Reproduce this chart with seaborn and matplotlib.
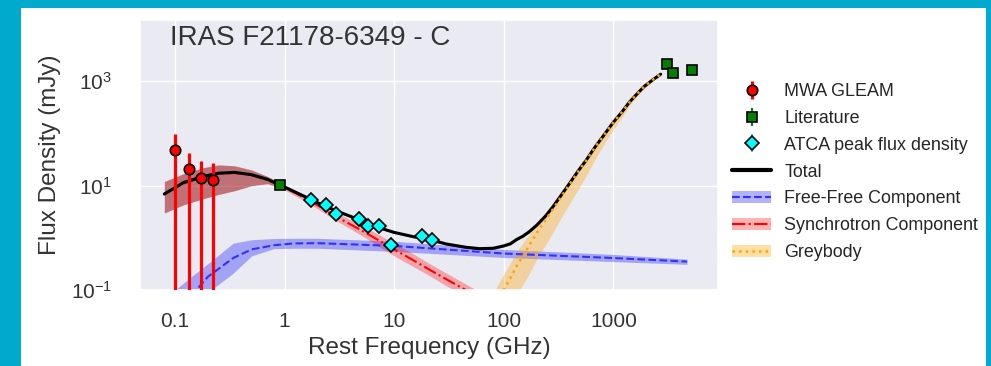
import matplotlib
matplotlib.use('Agg')
import matplotlib.pyplot as plt
import seaborn as sns
from matplotlib.patches import Patch, Rectangle
from matplotlib.lines import Line2D

# measured points
gleam_f = [0.10, 0.134, 0.172, 0.221]
gleam_v = [49, 21, 14.3, 13]
gleam_err = [50, 22, 16, 14.5]

lit_f = [0.90, 3116, 3465, 5196]
lit_v = [10.4, 2123, 1470, 1628]
lit_err = [0.6, 120, 90, 100]

atca_f = [1.74, 2.39, 2.95, 4.81, 5.72, 7.2, 9.33, 17.9, 22.0]
atca_v = [5.22, 4.31, 2.89, 2.29, 1.65, 1.65, 0.72, 1.09, 0.89]
atca_err = [0.2, 0.15, 0.1, 0.08, 0.06, 0.06, 0.04, 0.05, 0.04]

# model curves
tot_f = [0.08, 0.12, 0.18, 0.25, 0.35, 0.5, 0.7, 1.0, 1.5, 2.0, 3.0, 5.0, 7.0, 10, 15, 20, 30, 45, 60, 80,
         100, 115, 130, 150, 170, 200, 240, 280, 340, 400, 480, 560, 680, 800, 1000, 1200, 1400, 1650, 1900,
         2300, 2700]
tot_v = [6.9, 11.5, 15.0, 17.3, 18.0, 16.2, 13.2, 9.4, 6.3, 4.7, 3.25, 2.15, 1.6, 1.27, 1.05, 0.95, 0.76, 0.66,
         0.62, 0.63, 0.70, 0.77, 0.92, 1.08, 1.3, 1.75, 2.6, 3.9, 6.9, 11.2, 19.5, 30, 55, 87, 165, 260, 400,
         580, 790, 1080, 1370]
tot_hi = [12, 17, 22, 25, 24, 20, 15, 10.3, 6.6, 4.9, 3.4, 2.25, 1.67, 1.32, 1.1, 0.99, 0.8, 0.69, 0.65, 0.66,
          0.73, 0.81, 0.96, 1.13, 1.36, 1.83, 2.72, 4.1, 7.2, 11.7, 20.4, 31.4, 57.5, 91, 172, 272, 418, 606,
          825, 1130, 1430]
tot_lo = [3.0, 4.3, 5.6, 6.8, 8.0, 10, 11, 8.6, 6.0, 4.5, 3.1, 2.06, 1.53, 1.22, 1.0, 0.91, 0.73, 0.63, 0.59,
          0.6, 0.67, 0.73, 0.88, 1.03, 1.24, 1.67, 2.49, 3.73, 6.6, 10.7, 18.6, 28.7, 52.6, 83, 158, 248, 382,
          554, 755, 1032, 1310]

ff_f = [0.1, 0.15, 0.2, 0.34, 0.5, 0.8, 1.2, 2, 10, 100, 1000, 4700]
ff_v = [0.04, 0.09, 0.18, 0.41, 0.6, 0.72, 0.78, 0.79, 0.70, 0.50, 0.41, 0.35]
ff_hi = [0.1, 0.2, 0.32, 0.79, 0.92, 0.97, 0.98, 0.98, 0.86, 0.60, 0.48, 0.39]
ff_lo = [0.015, 0.04, 0.09, 0.21, 0.45, 0.62, 0.63, 0.63, 0.55, 0.42, 0.35, 0.31]

syn_f = [0.08, 0.12, 0.18, 0.25, 0.35, 0.5, 0.7, 1.0, 1.5, 2.0, 3.0, 5.0, 7.0, 10, 15, 20, 30, 45, 60, 80]
syn_v = [7.0, 11.0, 14.5, 16.8, 17.5, 16.0, 12.8, 9.3, 5.9, 4.2, 2.5, 1.4, 0.93, 0.6, 0.37, 0.26, 0.16, 0.1,
         0.07, 0.05]
syn_hi = [12, 17, 22, 25, 24, 20, 15, 10.3, 6.7, 4.9, 3.0, 1.75, 1.2, 0.79, 0.49, 0.34, 0.21, 0.13, 0.092, 0.066]
syn_lo = [3.0, 4.3, 5.6, 6.8, 8.0, 10, 10.8, 8.3, 5.2, 3.6, 2.1, 1.12, 0.72, 0.45, 0.28, 0.2, 0.12, 0.076,
          0.053, 0.038]

gb_f = [70, 85, 100, 115, 130, 150, 170, 200, 240, 280, 340, 400, 480, 560, 680, 800, 1000, 1200, 1400, 1650,
        1900, 2300, 2700]
gb_v = [0.028, 0.055, 0.1, 0.17, 0.28, 0.45, 0.7, 1.25, 2.2, 3.5, 6.5, 10.8, 19, 29.5, 54.5, 86, 164, 258, 398,
        578, 788, 1078, 1368]
gb_hi = [0.056, 0.11, 0.2, 0.33, 0.53, 0.81, 1.15, 1.9, 3.1, 4.6, 8.1, 12.9, 21.3, 32, 57.8, 89, 169, 265, 408,
         590, 802, 1095, 1385]
gb_lo = [0.008, 0.0157, 0.029, 0.049, 0.08, 0.13, 0.2, 0.39, 0.73, 1.25, 2.6, 4.6, 8.6, 15, 32, 57, 121, 205,
         346, 518, 730, 1015, 1303]

xticks = [0.1, 1, 10, 100, 1000]
xticklabels = ['0.1', '1', '10', '100', '1000']
yticks = [0.1, 10, 1000]

sns.set_theme(style='darkgrid')
plt.rcParams['font.family'] = ['Liberation Sans', 'DejaVu Sans']

fig = plt.figure(figsize=(9.91, 3.66), dpi=100)
fig.patch.set_facecolor('#00AACC')
fig.add_artist(Rectangle((20.7 / 991, 0), (986 - 20.7) / 991, (366 - 7.7) / 366,
                         transform=fig.transFigure, facecolor='white', edgecolor='none', zorder=-10))

ax = fig.add_axes([0.1413, 0.2077, 0.5832, 0.7377])
ax.set_xscale('log')
ax.set_yscale('log')

# uncertainty bands
ax.fill_between(tot_f, tot_lo, tot_hi, color='black', alpha=0.3, lw=0)
ax.fill_between(ff_f, ff_lo, ff_hi, color='blue', alpha=0.3, lw=0)
ax.fill_between(syn_f, syn_lo, syn_hi, color='red', alpha=0.3, lw=0)
ax.fill_between(gb_f, gb_lo, gb_hi, color='orange', alpha=0.35, lw=0)

sns.lineplot(x=ff_f, y=ff_v, ax=ax, color='#3030ff', linestyle='--', lw=1.5, errorbar=None)
sns.lineplot(x=syn_f, y=syn_v, ax=ax, color='red', linestyle='-.', lw=1.5, errorbar=None)
sns.lineplot(x=tot_f, y=tot_v, ax=ax, color='black', lw=2.2, errorbar=None)
sns.lineplot(x=gb_f, y=gb_v, ax=ax, color='orange', linestyle=':', lw=1.8, errorbar=None)

h_gleam = ax.errorbar(gleam_f, gleam_v, yerr=gleam_err, fmt='o', color='red', mec='black', mew=1.2,
                      ms=7.5, elinewidth=2.3, capsize=0, zorder=5)
h_lit = ax.errorbar(lit_f, lit_v, yerr=lit_err, fmt='s', color='green', mfc='green', mec='black', mew=1.2,
                    ms=7, elinewidth=1.5, capsize=0, zorder=5)
h_atca = ax.errorbar(atca_f, atca_v, yerr=atca_err, fmt='D', color='cyan', mfc='cyan', mec='black', mew=1.2,
                     ms=7.2, elinewidth=1.5, capsize=0, zorder=5)

ax.set_xlim(0.048, 9000)
ax.set_ylim(0.1, 1.5e4)
ax.set_xticks(xticks)
ax.set_xticklabels(xticklabels)
ax.set_yticks(yticks)
ax.minorticks_off()
ax.tick_params(axis='x', labelsize=15, pad=10, colors='#333333')
ax.tick_params(axis='y', labelsize=15, pad=14, colors='#333333')
ax.set_xlabel('Rest Frequency (GHz)', fontsize=17.5, color='#333333', labelpad=4)
ax.set_ylabel('Flux Density (mJy)', fontsize=17.5, color='#333333', labelpad=7)
ax.text(0.052, 0.933, 'IRAS F21178-6349 - C', transform=ax.transAxes, fontsize=20,
        va='center', ha='left', color='#333333')

handles = [
    h_gleam, h_lit, h_atca,
    Line2D([], [], color='black', lw=3),
    (Patch(facecolor='blue', alpha=0.3, lw=0), Line2D([], [], color='#3030ff', ls='--', lw=1.5)),
    (Patch(facecolor='red', alpha=0.3, lw=0), Line2D([], [], color='red', ls='-.', lw=1.5)),
    (Patch(facecolor='orange', alpha=0.35, lw=0), Line2D([], [], color='orange', ls=':', lw=1.8)),
]
labels = ['MWA GLEAM', 'Literature', 'ATCA peak flux density', 'Total',
          'Free-Free Component', 'Synchrotron Component', 'Greybody']
fig.legend(handles, labels, loc='upper left', bbox_to_anchor=(732 / 991, 1 - 83 / 366),
           frameon=False, fontsize=12.9, handlelength=2.2, handletextpad=0.72,
           borderpad=0, borderaxespad=0, labelspacing=0.55)

fig.savefig('out.png', dpi=100, facecolor=fig.get_facecolor())
